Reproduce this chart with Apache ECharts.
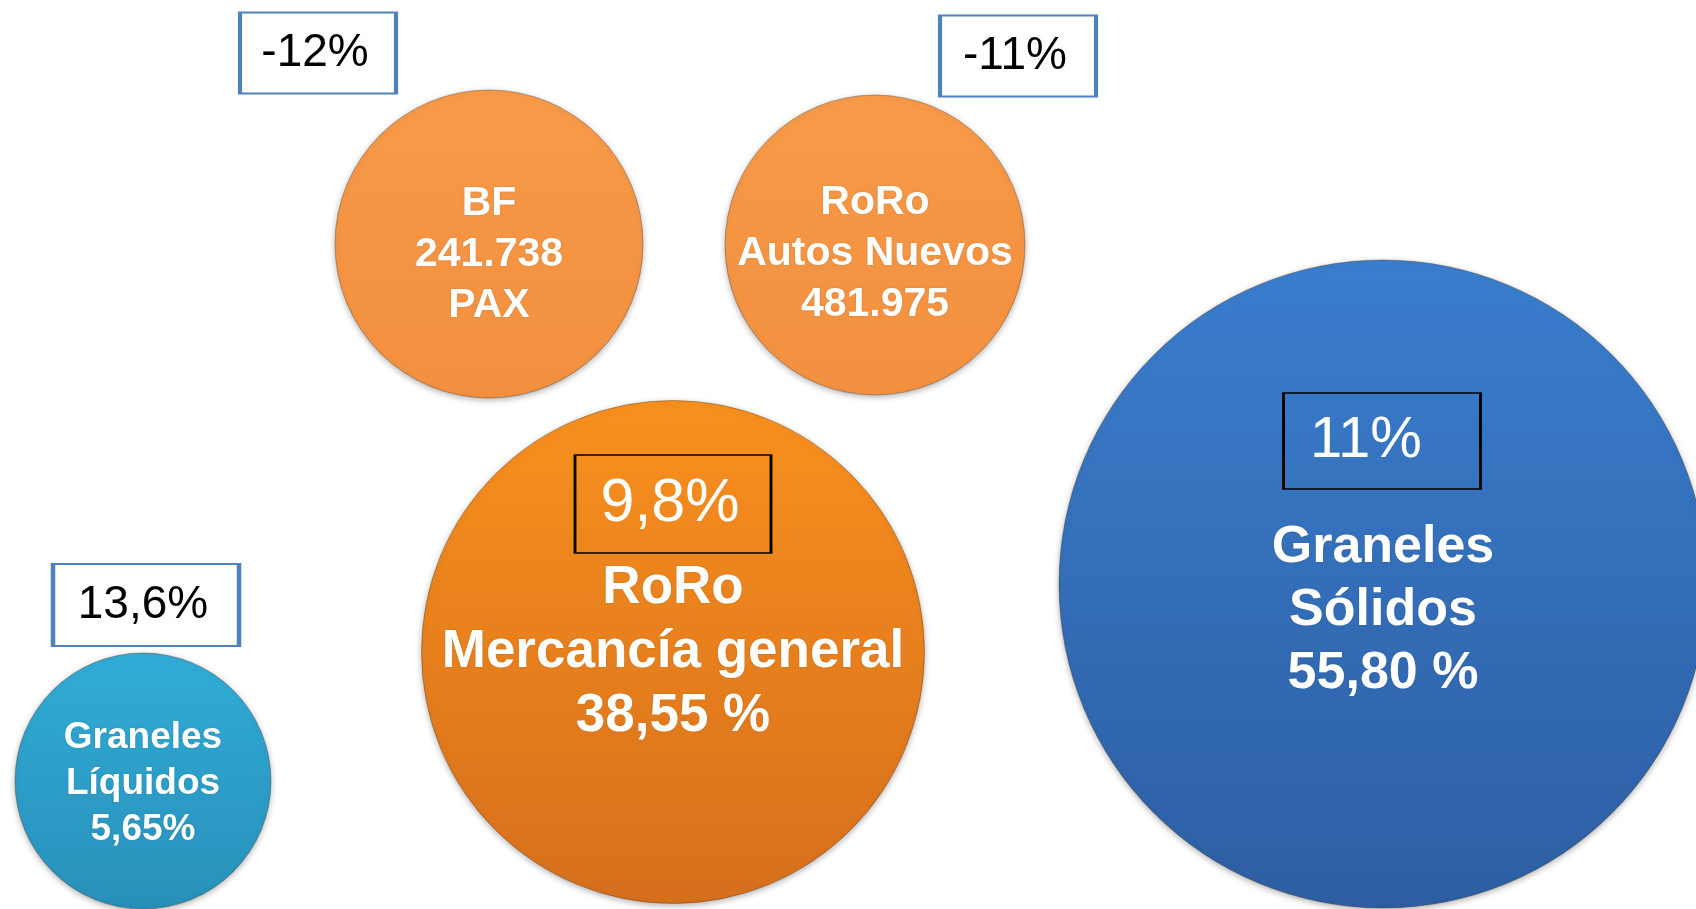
<!DOCTYPE html>
<html>
<head>
<meta charset="utf-8">
<title>Tráfico portuario</title>
<script src="https://cdn.jsdelivr.net/npm/echarts@6/dist/echarts.min.js"></script>
<style>
  html, body { margin: 0; padding: 0; background: #fff; }
  #chart { width: 1696px; height: 909px; }
</style>
</head>
<body>
<div id="chart"></div>
<script>
// data
const groups = ['BF', 'RoRo Autos Nuevos', 'RoRo Mercancía general', 'Graneles Líquidos', 'Graneles Sólidos'];
const labelLines = [
  ['BF', '241.738', 'PAX'],
  ['RoRo', 'Autos Nuevos', '481.975'],
  ['RoRo', 'Mercancía general', '38,55 %'],
  ['Graneles', 'Líquidos', '5,65%'],
  ['Graneles', 'Sólidos', '55,80 %']
];
const changes = ['-12%', '-11%', '9,8%', '13,6%', '11%'];

// layout (canvas units: x 0..1696, y 0..909 from top)
const bubblePos = [[489, 244], [875, 245], [673, 652], [143, 781], [1383, 584]];
const bubbleSize = [308, 300, 503, 256, 648];
const bubbleFont = [41, 41, 53, 37, 52];
const bubbleLine = [51, 51, 64, 46, 63];
const bubbleShift = [11, 9, 0, 3, 27];
const bubbleColors = [
  ['#F89A48', '#F2903F'],
  ['#F89A48', '#F2903F'],
  ['#F8901E', '#D66F1C'],
  ['#31ACD6', '#2790BA'],
  ['#3A7ECE', '#2D5EA2']
];
const boxPos = [[318, 53], [1018, 56], [673, 504], [146, 605], [1382, 441]];
const boxSize = [[156, 81], [156, 81], [196, 98], [186, 82], [197, 96]];
const boxFont = [46, 46, 61, 46, 58];
const boxInside = [false, false, true, false, true];

const myChart = echarts.init(document.getElementById('chart'));

const bubbleData = groups.map((name, i) => ({
  name: name,
  value: bubblePos[i],
  symbolSize: bubbleSize[i],
  itemStyle: {
    opacity: 1,
    color: {
      type: 'linear', x: 0, y: 0, x2: 0, y2: 1,
      colorStops: [
        { offset: 0, color: bubbleColors[i][0] },
        { offset: 1, color: bubbleColors[i][1] }
      ]
    }
  },
  label: {
    formatter: labelLines[i].join('\n'),
    fontSize: bubbleFont[i],
    lineHeight: bubbleLine[i],
    offset: [0, bubbleShift[i]]
  }
}));

const boxData = groups.map((name, i) => ({
  name: name,
  value: boxPos[i],
  symbolSize: boxSize[i],
  itemStyle: boxInside[i]
    ? { opacity: 1, color: 'rgba(0,0,0,0)', borderColor: '#000', borderWidth: 2 }
    : { opacity: 1, color: '#fff', borderColor: '#4F81BD', borderWidth: 3 },
  label: {
    formatter: changes[i],
    fontSize: boxFont[i],
    color: boxInside[i] ? '#fff' : '#000',
    offset: i === 4 ? [-16, 0] : [-3, 0]
  }
}));

const option = {
  animation: false,
  backgroundColor: '#fff',
  grid: { left: 0, right: 0, top: 0, bottom: 0 },
  xAxis: { type: 'value', min: 0, max: 1696, show: false },
  yAxis: { type: 'value', min: 0, max: 909, inverse: true, show: false },
  series: [
    {
      name: 'Tráfico',
      type: 'scatter',
      symbol: 'circle',
      silent: true,
      clip: false,
      data: bubbleData,
      itemStyle: {
        opacity: 1,
        borderColor: 'rgba(60,40,20,0.35)',
        borderWidth: 1,
        shadowBlur: 6,
        shadowColor: 'rgba(0,0,0,0.3)',
        shadowOffsetY: 2
      },
      label: {
        show: true,
        position: 'inside',
        color: '#fff',
        opacity: 1,
        fontFamily: '"Liberation Sans", Arial, sans-serif',
        fontWeight: 'bold',
        textShadowColor: 'rgba(0,0,0,0.15)',
        textShadowBlur: 2
      }
    },
    {
      name: 'Variación',
      type: 'scatter',
      symbol: 'rect',
      silent: true,
      clip: false,
      z: 3,
      data: boxData,
      itemStyle: { opacity: 1 },
      label: {
        show: true,
        position: 'inside',
        opacity: 1,
        fontFamily: '"Liberation Sans", Arial, sans-serif',
        fontWeight: 'normal'
      }
    }
  ]
};

myChart.setOption(option);
</script>
</body>
</html>
